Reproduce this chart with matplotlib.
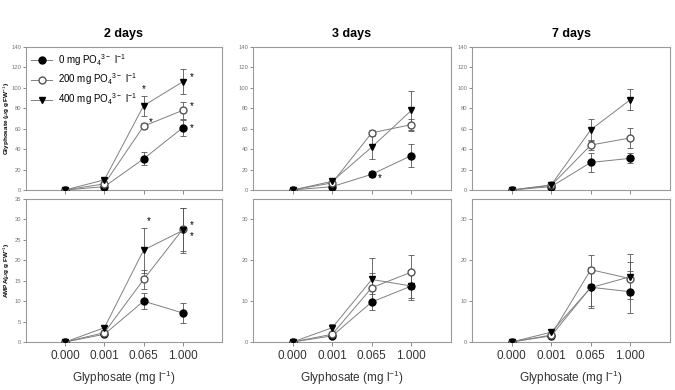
import matplotlib
matplotlib.use('Agg')
import matplotlib.pyplot as plt
from matplotlib.lines import Line2D
import numpy as np

plt.rcParams['font.family'] = ['Liberation Sans', 'DejaVu Sans']
plt.rcParams['mathtext.fontset'] = 'custom'
plt.rcParams['mathtext.rm'] = 'Liberation Sans'

# Data
x_labels = ['0.000', '0.001', '0.065', '1.000']
day_titles = ['2 days', '3 days', '7 days']
series_labels = [r'0 mg PO$_4$$^{3-}$ l$^{-1}$',
                 r'200 mg PO$_4$$^{3-}$ l$^{-1}$',
                 r'400 mg PO$_4$$^{3-}$ l$^{-1}$']

# Glyphosate content (ug g FW-1), rows = 0/200/400 mg PO4
gly_2d = [[0, 3.3, 30.5, 61], [0, 6, 62.5, 78], [0, 10, 82.5, 106]]
gly_2d_err = [[0, 1, 6.5, 8], [0, 1, 3, 8], [0, 1, 10, 12.5]]
gly_3d = [[0, 3.3, 15.4, 33.7], [0, 7, 56, 64], [0, 8.5, 42, 78]]
gly_3d_err = [[0, 1, 3, 11], [0, 1, 3, 6], [0, 1, 12, 19]]
gly_7d = [[0, 3.3, 27, 31], [0, 4.5, 44, 51], [0, 5, 59, 88.5]]
gly_7d_err = [[0, 0.5, 9, 5], [0, 0.5, 5, 10], [0, 0.5, 11, 10]]

# AMPA content (ug g FW-1)
ampa_2d = [[0, 1.9, 10.0, 7.1], [0, 2.3, 15.3, 27.6], [0, 3.5, 22.5, 27.3]]
ampa_2d_err = [[0, 0.3, 2, 2.5], [0, 0.3, 2.3, 5.3], [0, 0.5, 5.5, 5.5]]
ampa_3d = [[0, 1.5, 9.8, 13.7], [0, 1.9, 13.3, 17.1], [0, 3.5, 15.3, 13.7]]
ampa_3d_err = [[0, 0.3, 2, 3.3], [0, 0.3, 3.5, 4.2], [0, 1, 5.2, 3]]
ampa_7d = [[0, 1.5, 13.4, 12.3], [0, 1.7, 17.7, 15.5], [0, 2.4, 13.3, 16]]
ampa_7d_err = [[0, 0.3, 4.5, 5.2], [0, 0.3, 3.5, 4], [0, 0.5, 5, 5.5]]

# significance stars: (series, x index, dx pt, dy pt or 'top')
stars_gly = [[(2, 2, 0, 'top'), (1, 2, 4, 3), (2, 3, 5, 3), (1, 3, 5, 3), (0, 3, 5, 0)],
             [(0, 2, 4, -3)],
             []]
stars_ampa = [[(2, 2, 4, 'top'), (2, 3, 5, 4), (1, 3, 5, -5)], [], []]

gly = [(gly_2d, gly_2d_err), (gly_3d, gly_3d_err), (gly_7d, gly_7d_err)]
ampa = [(ampa_2d, ampa_2d_err), (ampa_3d, ampa_3d_err), (ampa_7d, ampa_7d_err)]

markers = [dict(marker='o', mfc='black', mec='black'),
           dict(marker='o', mfc='white', mec='#555555'),
           dict(marker='v', mfc='black', mec='black')]

fig = plt.figure(figsize=(6.75, 3.9), dpi=100)
W, H = 675., 390.
col_px = [(26, 222), (253, 451), (472, 670)]
row_px = [(47, 190), (199, 342)]
xs = np.arange(len(x_labels))


def draw(ax, vals, errs, stars):
    for i in range(3):
        ax.errorbar(xs, vals[i], yerr=errs[i], color='#808080', lw=0.7,
                    ecolor='#555555', elinewidth=0.6, capsize=2.5, capthick=0.6,
                    ms=5, **markers[i], zorder=3)
    for s, xi, dx, dy in stars:
        y = vals[s][xi]
        if dy == 'top':
            ax.annotate('*', (xs[xi], y + errs[s][xi]), xytext=(dx, 1),
                        textcoords='offset points', ha='center', va='bottom', fontsize=7)
        else:
            ax.annotate('*', (xs[xi], y), xytext=(dx, dy),
                        textcoords='offset points', ha='left', va='center', fontsize=7)
    ax.set_xlim(-1, 4)
    ax.set_xticks(xs)
    for sp in ax.spines.values():
        sp.set_color('#9a9a9a')
        sp.set_linewidth(0.8)
    ax.tick_params(axis='y', labelsize=4.2, colors='#777777', length=2.5, width=0.6, pad=0.8)
    ax.tick_params(axis='x', length=3, width=0.6, colors='#777777')


for c in range(3):
    x0, x1 = col_px[c]
    # top row: glyphosate
    y0, y1 = row_px[0]
    ax = fig.add_axes([x0 / W, 1 - y1 / H, (x1 - x0) / W, (y1 - y0) / H])
    draw(ax, gly[c][0], gly[c][1], stars_gly[c])
    ax.set_ylim(0, 140)
    ax.set_yticks(range(0, 141, 20))
    ax.set_xticklabels([])
    ax.set_title(day_titles[c], fontsize=9, fontweight='bold', pad=7)
    if c == 0:
        handles = [Line2D([], [], color='#808080', lw=0.7, ms=5, **markers[i])
                   for i in range(3)]
        ax.legend(handles, series_labels, loc='upper left', frameon=False,
                  fontsize=7, handlelength=2.2, borderaxespad=0.1,
                  labelspacing=0.4, handletextpad=0.6)
        ax.set_ylabel(r'Glyphosate ($\mu$g g FW$^{-1}$)', fontsize=4.6,
                      fontweight='bold')
        ax.yaxis.set_label_coords(-0.072, 0.5)
    # bottom row: AMPA
    y0, y1 = row_px[1]
    ax = fig.add_axes([x0 / W, 1 - y1 / H, (x1 - x0) / W, (y1 - y0) / H])
    draw(ax, ampa[c][0], ampa[c][1], stars_ampa[c])
    ax.set_ylim(0, 35)
    if c == 0:
        ax.set_yticks(range(0, 36, 5))
        ax.set_ylabel(r'AMPA($\mu$g g FW$^{-1}$)', fontsize=4.6,
                      fontweight='bold')
        ax.yaxis.set_label_coords(-0.072, 0.5)
    else:
        ax.set_yticks(range(0, 31, 10))
    ax.set_xticklabels(x_labels, fontsize=8.5, color='#333333')
    ax.tick_params(axis='x', pad=3)
    ax.set_xlabel(r'Glyphosate (mg l$^{-1}$)', fontsize=8.5, color='#333333', labelpad=5)

fig.savefig('out.png', dpi=100)
